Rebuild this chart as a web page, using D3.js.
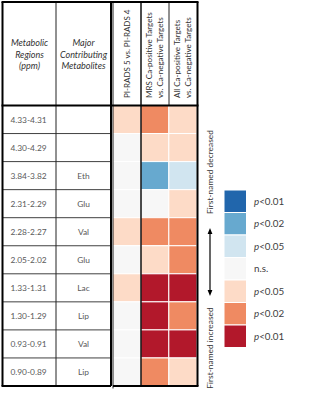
<!DOCTYPE html>
<html>
<head>
<meta charset="utf-8">
<script src="https://cdn.jsdelivr.net/npm/d3@7"></script>
<style>
  body { margin: 0; background: #fff; }
  svg { display: block; font-family: Lato, "Open Sans", sans-serif; }
</style>
</head>
<body>
<svg id="chart" width="321" height="400"></svg>
<script>
// data
var regions = ["4.33-4.31", "4.30-4.29", "3.84-3.82", "2.31-2.29", "2.28-2.27",
  "2.05-2.02", "1.33-1.31", "1.30-1.29", "0.93-0.91", "0.90-0.89"];
var metabolites = ["", "", "Eth", "Glu", "Val", "Glu", "Lac", "Lip", "Val", "Lip"];
var comparisons = [
  ["PI-RADS 5 vs. PI-RADS 4"],
  ["MRS Ca-positive Targets", "vs. Ca-negative Targets"],
  ["All Ca-positive Targets", "vs. Ca-negative Targets"]
];
// significance level: + first-named increased, - decreased (1: p<0.05, 2: p<0.02, 3: p<0.01)
var pi5vs4 = [1, 0, 0, 0, 1, 0, 1, 0, 0, 0];
var mrsPosNeg = [2, 1, -2, 0, 2, 1, 3, 3, 3, 2];
var allPosNeg = [1, 1, -1, 1, 2, 2, 3, 2, 3, 1];
var legendLevels = [-3, -2, -1, 0, 1, 2, 3];
var legendLabels = ["<0.01", "<0.02", "<0.05", "n.s.", "<0.05", "<0.02", "<0.01"];

var series = [pi5vs4, mrsPosNeg, allPosNeg];

var svg = d3.select("#chart");

var color = d3.scaleOrdinal()
  .domain([-3, -2, -1, 0, 1, 2, 3])
  .range(["#2166ac", "#67a9cf", "#d1e5f0", "#f7f7f7", "#fddbc7", "#ef8a62", "#b2182b"]);

var tblTop = 105.5, tblBottom = 386;
var y = d3.scaleBand().domain(d3.range(regions.length)).range([tblTop, tblBottom]);
var xHeat = d3.scaleBand().domain(d3.range(comparisons.length)).range([112.5, 197]);
var colL = [3, 56, 111];

// heat cells
var cells = [];
series.forEach((s, j) => s.forEach((v, i) => cells.push({ row: i, col: j, v: v })));

svg.append("g").selectAll("rect").data(cells).enter().append("rect")
  .attr("x", d => xHeat(d.col))
  .attr("y", d => y(d.row))
  .attr("width", xHeat.bandwidth())
  .attr("height", y.bandwidth())
  .attr("fill", d => color(d.v))
  .attr("stroke", "#fff")
  .attr("stroke-width", 1);

// left table row lines
var grid = svg.append("g");
grid.selectAll("line.row").data(d3.range(1, regions.length)).enter().append("line")
  .attr("x1", colL[0]).attr("x2", colL[2])
  .attr("y1", d => y(d)).attr("y2", d => y(d))
  .attr("stroke", "#404040").attr("stroke-width", 1);

// thin verticals
grid.append("line").attr("x1", colL[1]).attr("x2", colL[1]).attr("y1", 2).attr("y2", tblBottom)
  .attr("stroke", "#222").attr("stroke-width", 1);
grid.append("line").attr("x1", 113).attr("x2", 113).attr("y1", 2).attr("y2", 388.5)
  .attr("stroke", "#222").attr("stroke-width", 1);
grid.append("line").attr("x1", 141).attr("x2", 141).attr("y1", 2).attr("y2", tblBottom)
  .attr("stroke", "#111").attr("stroke-width", 1.5);
grid.append("line").attr("x1", 169).attr("x2", 169).attr("y1", 2).attr("y2", tblTop)
  .attr("stroke", "#222").attr("stroke-width", 1);

// thick borders
var thick = [
  [1.5, 2, 198.5, 2], [1.5, tblTop, 198.5, tblTop], [1.5, tblBottom, 111, tblBottom],
  [113, tblBottom, 198.5, tblBottom],
  [2.5, 2, 2.5, tblBottom], [111, 2, 111, tblBottom], [197.5, 2, 197.5, tblBottom]
];
grid.selectAll("line.thick").data(thick).enter().append("line")
  .attr("x1", d => d[0]).attr("y1", d => d[1]).attr("x2", d => d[2]).attr("y2", d => d[3])
  .attr("stroke", "#000").attr("stroke-width", 2);

// header text
var hdr = svg.append("g").attr("fill", "#333").attr("font-size", 9).attr("font-style", "italic")
  .attr("text-anchor", "middle");
[[(colL[0] + colL[1]) / 2, ["Metabolic", "Regions", "(ppm)"]],
 [(colL[1] + colL[2]) / 2, ["Major", "Contributing", "Metabolites"]]].forEach(h => {
  h[1].forEach((t, k) => {
    hdr.append("text").attr("x", h[0]).attr("y", 46 + k * 11.5).text(t);
  });
});

var rot = svg.append("g").attr("fill", "#333").attr("font-size", 8);
comparisons.forEach((lines, j) => {
  var cx = xHeat(j) + xHeat.bandwidth() / 2;
  lines.forEach((t, k) => {
    var xx = cx + (k - (lines.length - 1) / 2) * 11 + 3;
    rot.append("text")
      .attr("transform", `translate(${xx},98) rotate(-90)`)
      .text(t);
  });
});

// row labels
var body = svg.append("g").attr("fill", "#595959").attr("font-size", 8.4).attr("text-anchor", "middle");
body.selectAll("text.reg").data(regions).enter().append("text")
  .attr("x", (colL[0] + colL[1]) / 2 - 1)
  .attr("y", (d, i) => y(i) + y.bandwidth() / 2 + 3)
  .text(d => d);
body.selectAll("text.met").data(metabolites).enter().append("text")
  .attr("x", (colL[1] + colL[2]) / 2)
  .attr("y", (d, i) => y(i) + y.bandwidth() / 2 + 3)
  .text(d => d);

// direction annotations
var ann = svg.append("g").attr("fill", "#333").attr("font-size", 8.4);
ann.append("text").attr("text-anchor", "middle")
  .attr("transform", "translate(213,172) rotate(-90)").text("First-named decreased");
ann.append("text").attr("text-anchor", "middle")
  .attr("transform", "translate(213,348) rotate(-90)").text("First-named increased");

svg.append("defs").append("marker").attr("id", "ah")
  .attr("viewBox", "0 0 10 10").attr("refX", 5).attr("refY", 5)
  .attr("markerWidth", 5).attr("markerHeight", 5).attr("orient", "auto-start-reverse")
  .append("path").attr("d", "M0,1 L10,5 L0,9 Z").attr("fill", "#000");
svg.append("line").attr("x1", 210).attr("x2", 210).attr("y1", 231).attr("y2", 293)
  .attr("stroke", "#000").attr("stroke-width", 1.2)
  .attr("marker-start", "url(#ah)").attr("marker-end", "url(#ah)");

// legend
var ly = d3.scaleBand().domain(d3.range(legendLevels.length)).range([190, 347.5]);
var leg = svg.append("g");
leg.selectAll("rect").data(legendLevels).enter().append("rect")
  .attr("x", 224).attr("width", 22.5)
  .attr("y", (d, i) => ly(i)).attr("height", ly.bandwidth())
  .attr("fill", d => color(d)).attr("stroke", "#fff").attr("stroke-width", 1);
var lt = leg.selectAll("text").data(legendLabels).enter().append("text")
  .attr("x", 254).attr("y", (d, i) => ly(i) + ly.bandwidth() / 2 + 3.5)
  .attr("font-size", 9.8).attr("fill", "#404040");
lt.filter(d => d !== "n.s.").append("tspan").attr("font-style", "italic").text("p");
lt.append("tspan").text(d => d);
</script>
</body>
</html>
